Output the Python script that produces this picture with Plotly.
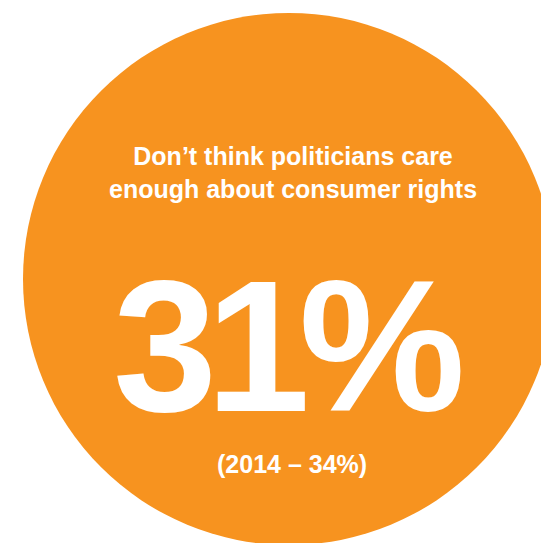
import plotly.graph_objects as go

# Data
headline = ["Don’t think politicians care", "enough about consumer rights"]
value_current = [31]
comparison_year = [2014]
value_previous = [34]

W, H = 541, 543
ORANGE = "#F7931F"
FONT = "Liberation Sans, Arial, Helvetica, sans-serif"

fig = go.Figure()

# circle
cx, cy, r = 289, 279, 266
fig.add_shape(type="circle", xref="x", yref="y",
              x0=cx - r, x1=cx + r, y0=cy - r, y1=cy + r,
              fillcolor=ORANGE, line=dict(width=0), layer="below")

# headline
fig.add_annotation(x=293, y=172, xref="x", yref="y",
                   text="<br>".join(f"<b>{t}</b>" for t in headline),
                   showarrow=False, font=dict(family=FONT, size=25, color="white"),
                   align="center", xanchor="center", yanchor="middle")

# big value
fig.add_annotation(x=287, y=346, xref="x", yref="y",
                   text=f"<b><span style='letter-spacing:-11px'>{value_current[0]}%</span></b>",
                   showarrow=False, font=dict(family=FONT, size=187, color="white"),
                   xanchor="center", yanchor="middle")

# comparison
fig.add_annotation(x=292, y=464, xref="x", yref="y",
                   text=f"<b>({comparison_year[0]} – {value_previous[0]}%)</b>",
                   showarrow=False, font=dict(family=FONT, size=25, color="white"),
                   xanchor="center", yanchor="middle")

fig.update_xaxes(range=[0, W], visible=False, fixedrange=True)
fig.update_yaxes(range=[H, 0], visible=False, fixedrange=True)
fig.update_layout(width=W, height=H, margin=dict(l=0, r=0, t=0, b=0),
                  paper_bgcolor="white", plot_bgcolor="white", showlegend=False)

fig.write_html("out.html", config={"displayModeBar": False})
